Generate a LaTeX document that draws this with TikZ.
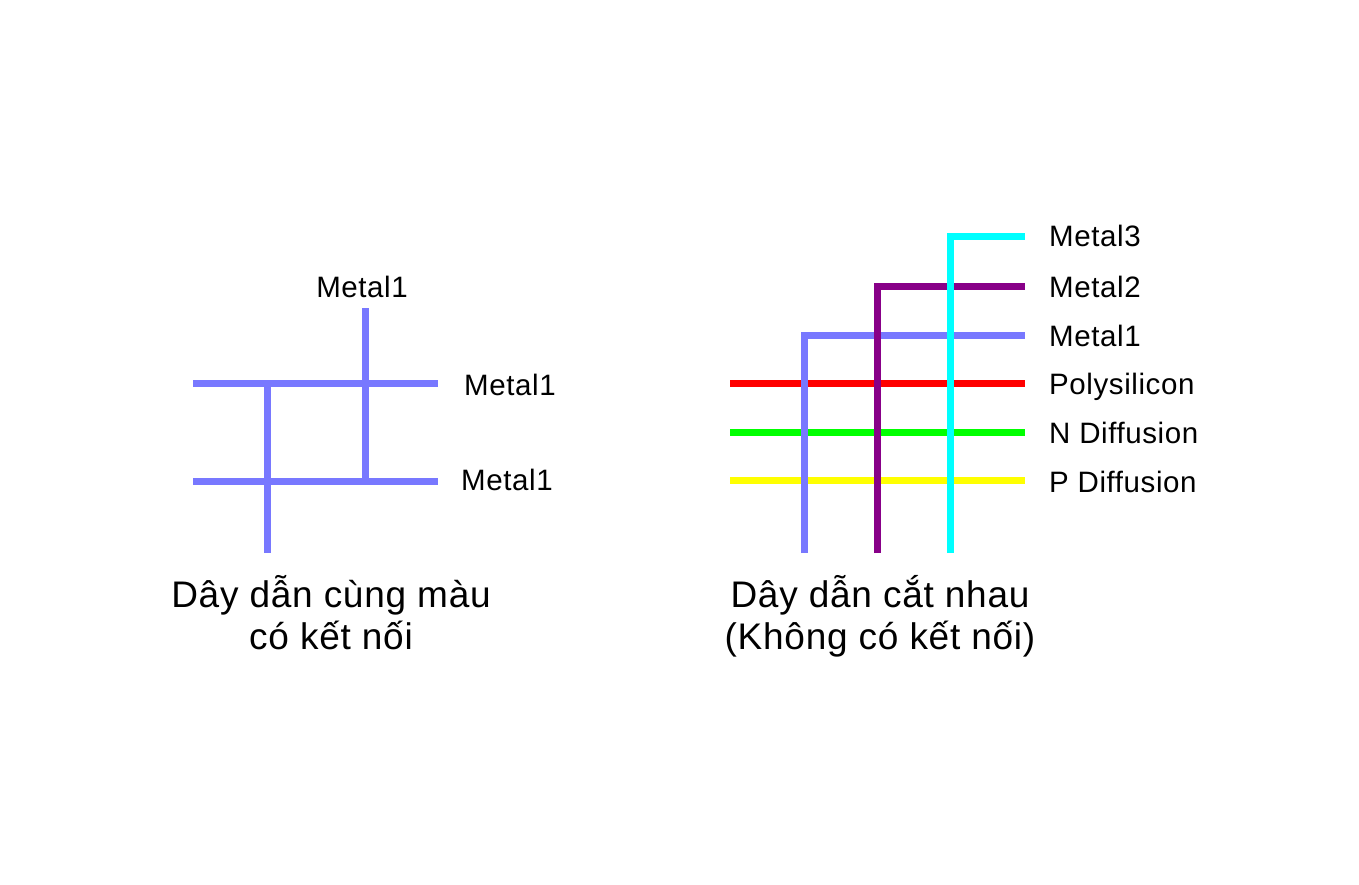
\documentclass[tikz,border=0pt]{standalone}
\usepackage{fontspec}
\setmainfont[LetterSpace=2]{Liberation Sans}
\definecolor{metalone}{HTML}{7878FF}
\definecolor{metaltwo}{HTML}{880088}
\definecolor{metalthree}{HTML}{00FFFF}
\definecolor{poly}{HTML}{FF0000}
\definecolor{ndiff}{HTML}{00FF00}
\definecolor{pdiff}{HTML}{FFFF00}
\begin{document}
\begin{tikzpicture}[x=1pt,y=-1pt,
  wire/.style={line width=7pt,line cap=butt,line join=miter},
  lbl/.style={anchor=base west,inner sep=0pt,font=\fontsize{29.5}{34}\selectfont},
  caption/.style={anchor=base,inner sep=0pt,align=center,font=\fontsize{37}{42}\selectfont}]
\useasboundingbox (0,0) rectangle (1359,885);
% Left diagram
\coordinate (L1a) at (193,383); \coordinate (L1b) at (438,383);
\coordinate (L2a) at (193,481); \coordinate (L2b) at (438,481);
\coordinate (V1a) at (267,383); \coordinate (V1b) at (267,553);
\coordinate (V2a) at (365,308); \coordinate (V2b) at (365,481);
\draw[wire,metalone] (L1a) -- (L1b);
\draw[wire,metalone] (L2a) -- (L2b);
\draw[wire,metalone] (V1a) -- (V1b);
\draw[wire,metalone] (V2a) -- (V2b);
\node[lbl,anchor=base] (lt) at (362,297) {Metal1};
\node[lbl] (lr1) at (464,395) {Metal1};
\node[lbl] (lr2) at (461,490) {Metal1};
\node[caption] (capL) at (331,649) {Dây dẫn cùng màu\\có kết nối};
% Right diagram
\coordinate (Pa) at (730,383); \coordinate (Pb) at (1025,383);
\coordinate (Na) at (730,432); \coordinate (Nb) at (1025,432);
\coordinate (Da) at (730,480); \coordinate (Db) at (1025,480);
\draw[wire,poly] (Pa) -- (Pb);
\draw[wire,ndiff] (Na) -- (Nb);
\draw[wire,pdiff] (Da) -- (Db);
\coordinate (M1s) at (804,553); \coordinate (M1c) at (804,335); \coordinate (M1e) at (1025,335);
\coordinate (M2s) at (877,553); \coordinate (M2c) at (877,286); \coordinate (M2e) at (1025,286);
\coordinate (M3s) at (950,553); \coordinate (M3c) at (950,237); \coordinate (M3e) at (1025,237);
\draw[wire,metalone] (M1s) -- (M1c) -- (M1e);
\draw[wire,metaltwo] (M2s) -- (M2c) -- (M2e);
\draw[wire,metalthree] (M3s) -- (M3c) -- (M3e);
\node[lbl] (r3) at (1049,247) {Metal3};
\node[lbl] (r2) at (1049,297) {Metal2};
\node[lbl] (r1) at (1049,346) {Metal1};
\node[lbl] (rp) at (1049,394) {Polysilicon};
\node[lbl] (rn) at (1049,443) {N Diffusion};
\node[lbl] (rd) at (1049,492) {P Diffusion};
\node[caption] (capR) at (880,649) {Dây dẫn cắt nhau\\(Không có kết nối)};
\end{tikzpicture}
\end{document}
